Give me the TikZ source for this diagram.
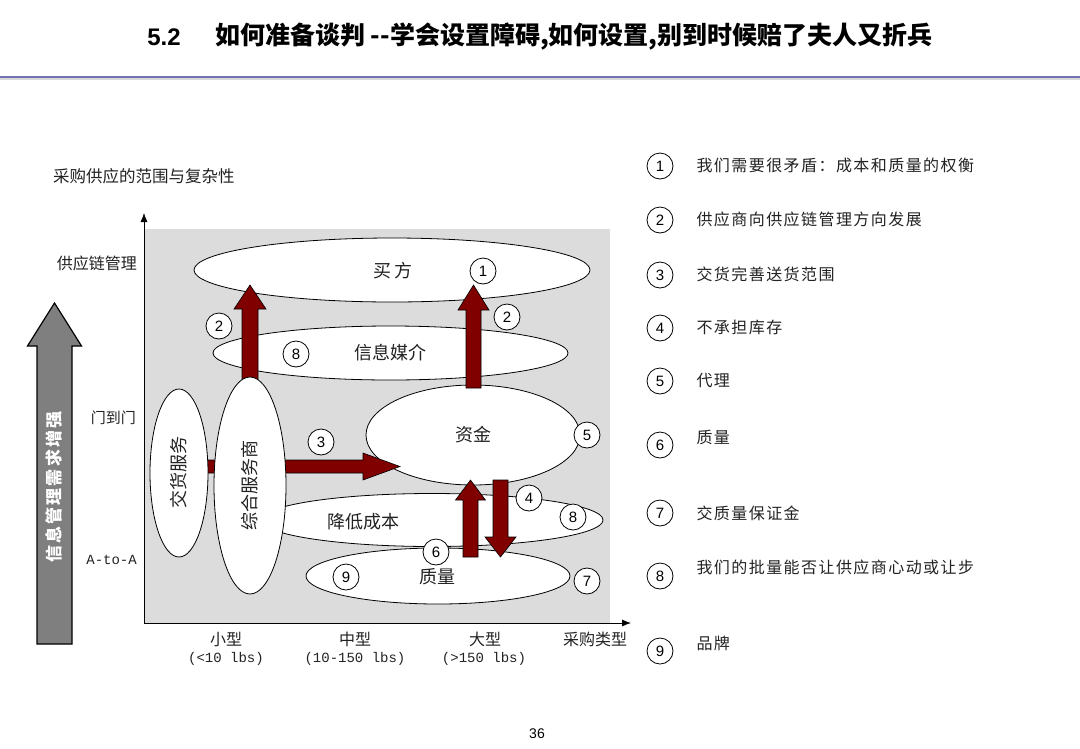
\documentclass[tikz,border=0pt]{standalone}
\usepackage{fontspec}
\setmainfont{Liberation Sans}
\newfontfamily\cjk{Noto Sans CJK SC}
\newfontfamily\cjkls{Noto Sans CJK SC}[LetterSpace=9]
\newfontfamily\cjkwide{Noto Sans CJK SC}[LetterSpace=12]
\newfontfamily\monof{Liberation Mono}
\usetikzlibrary{shapes.geometric,calc,arrows.meta}
\definecolor{panel}{HTML}{DCDCDC}
\definecolor{dred}{HTML}{800000}
\definecolor{bigarrow}{HTML}{7F7F7F}
\definecolor{rulec}{HTML}{7272B2}
\definecolor{txt}{HTML}{222222}
\newcommand\blockarrow[6]{%
  \path ($(#3)!#6!(#2)$) coordinate (bab);
  \draw[#1] ($(#2)!#4!90:(#3)$) -- ($(bab)!#4!90:(#3)$) -- ($(bab)!#5!90:(#3)$) -- (#3)
    -- ($(bab)!#5!-90:(#3)$) -- ($(bab)!#4!-90:(#3)$) -- ($(#2)!#4!-90:(#3)$) -- cycle;}
\tikzset{
  ell/.style={ellipse, draw=black, fill=white, line width=0.8pt, inner sep=0pt},
  num/.style={circle, draw=black, fill=white, line width=0.8pt, minimum size=26pt, inner sep=0pt, font=\fontsize{15}{15}\selectfont},
  lab/.style={text=txt, font=\cjk\fontsize{18}{20}\selectfont},
  axl/.style={text=txt, font=\cjk\fontsize{16}{18}\selectfont},
  mono/.style={text=txt, font=\monof\fontsize{14}{15}\selectfont},
  leg/.style={anchor=west, text=txt, font=\cjkls\fontsize{16}{18}\selectfont},
  blk/.style={fill=dred, draw=black, line width=0.6pt},
  gblk/.style={fill=bigarrow, draw=black, line width=1.2pt},
  axis/.style={draw=black, line width=0.8pt, -{Latex[length=9pt,width=7pt]}}
}
\begin{document}
\begin{tikzpicture}[x=1pt,y=-1pt]
\useasboundingbox (0,0) rectangle (1080,748);
% title
\node[font=\bfseries\fontsize{24}{26}\selectfont] (tnum) at (164,37) {5.2};
\node[anchor=west, font=\cjk\bfseries\fontsize{25}{27}\selectfont, inner sep=0pt] (ttl) at (215,37) {如何准备谈判 --学会设置障碍,如何设置,别到时候赔了夫人又折兵};
\coordinate (rl) at (0,77);
\coordinate (rr) at (1080,77);
\draw[rulec, line width=2pt] (rl) -- (rr);
\draw[black!15, line width=1.2pt] ($(rl)+(0,2)$) -- ($(rr)+(0,2)$);
% chart heading
\node[anchor=west, text=txt, font=\cjk\fontsize{16.5}{18}\selectfont, inner sep=0pt] (head) at (53,176) {采购供应的范围与复杂性};
% panel and axes
\fill[panel] (144,229) rectangle (610,623);
\coordinate (org) at (144,623);
\coordinate (ytip) at (144,213);
\coordinate (xtip) at (631,623);
\draw[axis] (org) -- (ytip);
\draw[axis] (org) -- (xtip);
% axis labels
\node[axl, anchor=east, inner sep=0pt] (y1) at (137,263) {供应链管理};
\node[text=txt, font=\cjk\fontsize{15}{16}\selectfont, anchor=east, inner sep=0pt] (y2) at (136,418) {门到门};
\node[mono, anchor=east, inner sep=0pt] (y3) at (137,560) {A-to-A};
\node[axl] (x1) at (226,639) {小型};
\node[mono] (x1b) at (226,659) {(<10 lbs)};
\node[axl] (x2) at (355,639) {中型};
\node[mono] (x2b) at (355,659) {(10-150 lbs)};
\node[axl] (x3) at (485,639) {大型};
\node[mono] (x3b) at (484,659) {(>150 lbs)};
\node[axl] (x4) at (595,639) {采购类型};
\node[font=\fontsize{14}{15}\selectfont] (page) at (537,734) {36};
% big gray arrow
\coordinate (gas) at (54.5,644);
\coordinate (gat) at (54.5,303);
\blockarrow{gblk}{gas}{gat}{17.5pt}{27pt}{43pt}
\node[rotate=90, text=white, font=\cjkwide\bfseries\fontsize{17}{18}\selectfont] (gatxt) at (54,487) {信息管理需求增强};
% ellipses
\node[ell, minimum width=396pt, minimum height=64pt] (buyer) at (392,270) {};
\node[ell, minimum width=355pt, minimum height=54pt] (info) at (390.5,353) {};
\node[ell, minimum width=214pt, minimum height=100pt] (fund) at (473,435) {};
\node[ell, minimum width=342pt, minimum height=53pt] (cost) at (432,520) {};
\node[ell, minimum width=264pt, minimum height=56pt] (qual) at (438,576) {};
% dark red arrows
\coordinate (a1s) at (250,420);
\coordinate (a1t) at (250,285);
\blockarrow{blk}{a1s}{a1t}{8pt}{16pt}{24pt}
\coordinate (a2s) at (473.5,388);
\coordinate (a2t) at (473.5,285);
\blockarrow{blk}{a2s}{a2t}{7.5pt}{15.5pt}{25pt}
\coordinate (a3s) at (185,466.5);
\coordinate (a3t) at (400,466.5);
\blockarrow{blk}{a3s}{a3t}{6.5pt}{13.5pt}{37pt}
\coordinate (a4s) at (470.5,557);
\coordinate (a4t) at (470.5,480);
\blockarrow{blk}{a4s}{a4t}{7.5pt}{15pt}{20pt}
\coordinate (a5s) at (500.5,480);
\coordinate (a5t) at (500.5,557);
\blockarrow{blk}{a5s}{a5t}{7.5pt}{15.5pt}{20pt}
% vertical ellipses
\node[ell, minimum width=58pt, minimum height=168pt] (deliv) at (179,473) {};
\node[ell, minimum width=72pt, minimum height=217pt] (integ) at (250,485.5) {};
% ellipse labels
\node[lab] (tbuyer) at (393,271) {买\hspace{3pt}方};
\node[lab] (tinfo) at (390,353) {信息媒介};
\node[lab] (tfund) at (473,435) {资金};
\node[lab] (tcost) at (363,522) {降低成本};
\node[lab] (tqual) at (437,577) {质量};
\node[lab, rotate=90] (tdeliv) at (179,472) {交货服务};
\node[lab, rotate=90] (tinteg) at (250,485) {综合服务商};
% numbered circles in chart
\node[num] (c1) at (483,271) {1};
\node[num] (c2a) at (219,326) {2};
\node[num] (c2b) at (507,317) {2};
\node[num] (c8a) at (296,354) {8};
\node[num] (c3) at (321,442) {3};
\node[num] (c5) at (587,435) {5};
\node[num] (c4) at (529,498) {4};
\node[num] (c8b) at (573,517) {8};
\node[num] (c6) at (436,552) {6};
\node[num] (c9) at (346,577) {9};
\node[num] (c7) at (587,581) {7};
% legend
\node[num] (l1) at (660,166) {1};
\node[leg] (lt1) at (693,165) {我们需要很矛盾：成本和质量的权衡};
\node[num] (l2) at (660,220) {2};
\node[leg] (lt2) at (693,219) {供应商向供应链管理方向发展};
\node[num] (l3) at (660,275) {3};
\node[leg] (lt3) at (693,274) {交货完善送货范围};
\node[num] (l4) at (660,328) {4};
\node[leg] (lt4) at (693,327) {不承担库存};
\node[num] (l5) at (660,381) {5};
\node[leg] (lt5) at (693,381) {代理};
\node[num] (l6) at (660,445) {6};
\node[leg] (lt6) at (693,437) {质量};
\node[num] (l7) at (660,513) {7};
\node[leg] (lt7) at (693,513) {交质量保证金};
\node[num] (l8) at (660,576) {8};
\node[leg] (lt8) at (693,567) {我们的批量能否让供应商心动或让步};
\node[num] (l9) at (660,651) {9};
\node[leg] (lt9) at (693,643) {品牌};
\end{tikzpicture}
\end{document}
